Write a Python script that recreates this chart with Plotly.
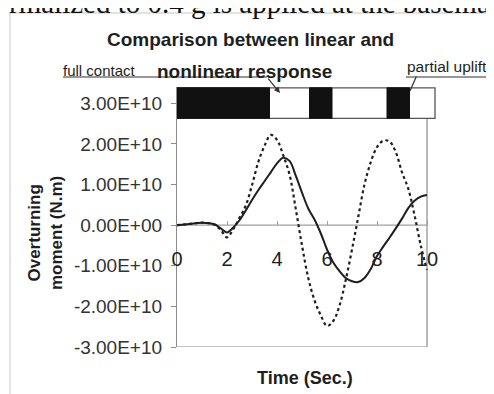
import plotly.graph_objects as go

# ---------------- data ----------------
time_s = [0, 0.5, 1.0, 1.5, 1.75, 2.0, 2.25, 2.5, 2.75, 3.0, 3.25, 3.5, 3.75,
          4.0, 4.25, 4.5, 4.75, 5.0, 5.25, 5.5, 5.75, 6.0, 6.25, 6.5, 6.75,
          7.0, 7.25, 7.5, 7.75, 8.0, 8.25, 8.5, 8.75, 9.0, 9.25, 9.5, 9.75, 10.0]

# overturning moment, units of 1E+10 N.m
linear_e10 = [0, 0.03, 0.06, 0.01, -0.12, -0.30, -0.10, 0.18, 0.48, 0.98, 1.55, 1.95, 2.22,
              2.10, 1.72, 1.25, 0.40, -0.50, -1.30, -1.85, -2.22, -2.48, -2.36, -1.98, -1.35,
              -0.60, 0.20, 1.00, 1.55, 1.92, 2.08, 2.06, 1.80, 1.30, 0.90, 0.25, -0.50, -1.10]

nonlinear_e10 = [0, 0.03, 0.06, 0.02, -0.08, -0.18, -0.06, 0.12, 0.36, 0.62, 0.86, 1.08, 1.30,
                 1.52, 1.66, 1.58, 1.22, 0.80, 0.41, 0.14, -0.20, -0.60, -0.92, -1.13, -1.30,
                 -1.38, -1.40, -1.30, -1.08, -0.76, -0.53, -0.31, -0.08, 0.16, 0.42, 0.60, 0.70, 0.74]

UNIT = 1e10
y_tick_vals = [-3e10, -2e10, -1e10, 0, 1e10, 2e10, 3e10]
y_tick_text = ["-3.00E+10", "-2.00E+10", "-1.00E+10", "0.00E+00",
               "1.00E+10", "2.00E+10", "3.00E+10"]
x_tick_vals = [0, 2, 4, 6, 8, 10]

# contact-state band drawn at the 3.00E+10 level
band_level = 3e10
band_end = 10.32
uplift_start = [0.0, 5.3, 8.4]
uplift_end = [3.7, 6.2, 9.3]

# ---------------- geometry ----------------
# the page body adds an 8px offset; positions below are in window pixels
OFF = 8
W, H = 494, 394
PLOT_LEFT, PLOT_RIGHT, PLOT_TOP, PLOT_BOTTOM = 177, 437, 87, 347   # window px
L = PLOT_LEFT - OFF
T = PLOT_TOP - OFF
R = W - (PLOT_RIGHT - OFF)
B = H - (PLOT_BOTTOM - OFF)
PW, PH = W - L - R, H - T - B
X_RANGE = [0, 10.4]
Y_RANGE = [-3e10, 3.4e10]


def pxx(px):
    return (px - PLOT_LEFT) / PW


def pxy(py):
    return (PLOT_BOTTOM - py) / PH


INK = "#1e1e1e"
AX = "#8c8c8c"
FONT = "Liberation Sans, Arial, sans-serif"

fig = go.Figure()
fig.add_trace(go.Scatter(
    x=time_s, y=[v * UNIT for v in linear_e10], mode="lines",
    line=dict(color=INK, width=2.2, dash="dot", shape="spline", smoothing=1.0),
    name="linear", showlegend=False, hoverinfo="skip"))
fig.add_trace(go.Scatter(
    x=time_s, y=[v * UNIT for v in nonlinear_e10], mode="lines",
    line=dict(color=INK, width=2.0, shape="spline", smoothing=1.0),
    name="nonlinear", showlegend=False, hoverinfo="skip"))

shapes = []
# plot-area box and zero line (data coordinates)
shapes.append(dict(type="line", xref="x", yref="y", x0=10, x1=10, y0=-3e10, y1=3e10,
                   line=dict(color=AX, width=1.2), layer="below"))
shapes.append(dict(type="line", xref="x", yref="y", x0=0, x1=10, y0=-3e10, y1=-3e10,
                   line=dict(color=AX, width=1.2), layer="below"))
shapes.append(dict(type="line", xref="x", yref="y", x0=0, x1=10, y0=0, y1=0,
                   line=dict(color="#a0a0a0", width=1.2), layer="below"))
# contact-state band
shapes.append(dict(type="rect", xref="x", yref="y", x0=0, x1=band_end,
                   y0=band_level - 0.37 * UNIT, y1=band_level + 0.38 * UNIT,
                   fillcolor="white", line=dict(color="#555", width=1.3), layer="above"))
for s, e in zip(uplift_start, uplift_end):
    shapes.append(dict(type="rect", xref="x", yref="y", x0=s, x1=e,
                       y0=band_level - 0.37 * UNIT, y1=band_level + 0.38 * UNIT,
                       fillcolor="#111", line=dict(color="#111", width=1), layer="above"))
# outer page frame (light)
shapes.append(dict(type="line", xref="paper", yref="paper", x0=pxx(10), x1=pxx(W + 20),
                   y0=pxy(13), y1=pxy(13), line=dict(color="#d8d8d8", width=1.5)))
shapes.append(dict(type="line", xref="paper", yref="paper", x0=pxx(10), x1=pxx(10),
                   y0=pxy(13), y1=pxy(H + 20), line=dict(color="#d8d8d8", width=1.5)))
# leader lines / underlines
shapes.append(dict(type="path", xref="paper", yref="paper",
                   path=f"M {pxx(63)} {pxy(77)} L {pxx(267)} {pxy(77)}",
                   line=dict(color="#333", width=1.2)))
shapes.append(dict(type="path", xref="paper", yref="paper",
                   path=f"M {pxx(406)} {pxy(77)} L {pxx(W + 20)} {pxy(77)}",
                   line=dict(color="#333", width=1.2)))

annotations = []
# arrows to the band
annotations.append(dict(x=4.12, y=3.25e10, xref="x", yref="y", text="", showarrow=True,
                        ax=-13, ay=-16, arrowhead=2, arrowsize=1, arrowwidth=1.2,
                        arrowcolor="#333"))
annotations.append(dict(x=9.32, y=3.3e10, xref="x", yref="y", text="", showarrow=True,
                        ax=7, ay=-16, arrowhead=0, arrowwidth=1.2, arrowcolor="#333"))
# texts
annotations.append(dict(x=pxx(250), y=pxy(40), xref="paper", yref="paper",
                        text="Comparison between linear and", showarrow=False,
                        font=dict(family=FONT, size=19, color=INK, weight="bold"),
                        xanchor="center", yanchor="middle"))
annotations.append(dict(x=pxx(244), y=pxy(71), xref="paper", yref="paper",
                        text="nonlinear response", showarrow=False,
                        font=dict(family=FONT, size=19, color=INK, weight="bold"),
                        xanchor="center", yanchor="middle"))
annotations.append(dict(x=pxx(61), y=pxy(70), xref="paper", yref="paper",
                        text="full contact", showarrow=False,
                        font=dict(family=FONT, size=15, color=INK),
                        xanchor="left", yanchor="middle"))
annotations.append(dict(x=pxx(405), y=pxy(66), xref="paper", yref="paper",
                        text="partial uplift", showarrow=False,
                        font=dict(family=FONT, size=15.5, color=INK),
                        xanchor="left", yanchor="middle"))
annotations.append(dict(x=pxx(45), y=pxy(233), xref="paper", yref="paper",
                        text="Overturning<br>moment (N.m)", showarrow=False, textangle=-90,
                        font=dict(family=FONT, size=17, color=INK, weight="bold"),
                        xanchor="center", yanchor="middle"))
annotations.append(dict(x=pxx(305), y=pxy(378), xref="paper", yref="paper",
                        text="Time (Sec.)", showarrow=False,
                        font=dict(family=FONT, size=18, color=INK, weight="bold"),
                        xanchor="center", yanchor="middle"))
# scanned page text cut off at the top
annotations.append(dict(x=pxx(-22), y=pxy(21), xref="paper", yref="paper",
                        text="normalized to 0.4 g is applied at the basemat", showarrow=False,
                        font=dict(family="Liberation Serif, Times New Roman, serif", size=29,
                                  color="#111"),
                        xanchor="left", yanchor="bottom"))

fig.update_layout(
    width=W, height=H,
    margin=dict(l=L, r=R, t=T, b=B, pad=0, autoexpand=False),
    paper_bgcolor="white", plot_bgcolor="white",
    showlegend=False,
    shapes=shapes, annotations=annotations,
    xaxis=dict(range=X_RANGE, anchor="free", position=3 / 6.4, automargin=False,
               tickvals=x_tick_vals, showline=False, showgrid=False, zeroline=False,
               ticks="inside", ticklen=4, tickcolor="#a0a0a0", tickwidth=1,
               ticklabelstandoff=20,
               tickfont=dict(family=FONT, size=20, color=INK)),
    yaxis=dict(range=Y_RANGE, tickvals=y_tick_vals, ticktext=y_tick_text, automargin=False,
               showline=True, linecolor=AX, linewidth=1.2, showgrid=False, zeroline=False,
               ticks="outside", ticklen=5, tickcolor=AX, tickwidth=1,
               ticklabelstandoff=5,
               tickfont=dict(family=FONT, size=19, color="#333")),
)

fig.write_html("out.html")
